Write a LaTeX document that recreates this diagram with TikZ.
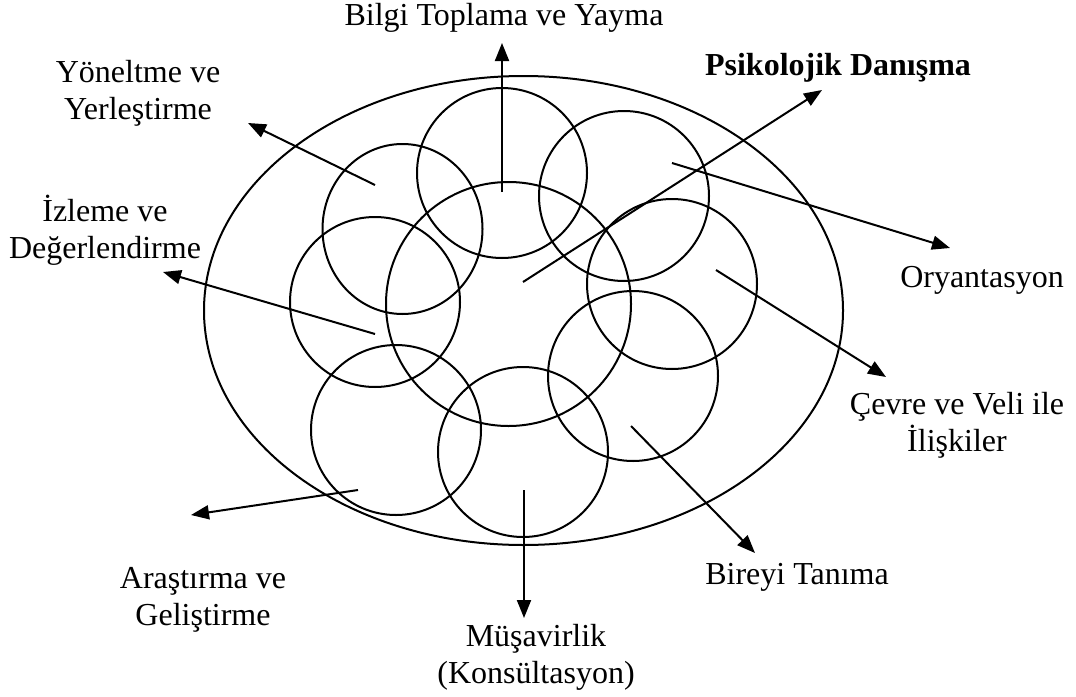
\documentclass[tikz,border=0pt]{standalone}
\usepackage{fontspec}
\setmainfont{Liberation Serif}
\usetikzlibrary{arrows.meta}
\begin{document}
\begin{tikzpicture}[x=0.5pt,y=-0.5pt,
  ring/.style={draw, line width=1pt},
  conn/.style={draw, line width=1pt, -{Triangle[length=9pt,width=7pt]}},
  lbl/.style={inner sep=0pt, align=center, font=\fontsize{16}{18.5}\selectfont}]
\useasboundingbox (0,0) rectangle (1076,696);
% outer ellipse
\draw[ring] (523.5,310.5) ellipse [x radius=159.75pt, y radius=117.25pt];
% small circles
\draw[ring] (502,173) ellipse [x radius=42.5pt, y radius=42.5pt];
\draw[ring] (624,196) ellipse [x radius=42.5pt, y radius=42.5pt];
\draw[ring] (402.5,229) ellipse [x radius=40pt, y radius=42.5pt];
\draw[ring] (375,302) ellipse [x radius=42.5pt, y radius=42.5pt];
\draw[ring] (672,284) ellipse [x radius=42.5pt, y radius=42.5pt];
\draw[ring] (633,376) ellipse [x radius=42.5pt, y radius=42.5pt];
\draw[ring] (523,452) ellipse [x radius=42.5pt, y radius=42.5pt];
\draw[ring] (396,430) ellipse [x radius=42.5pt, y radius=42.5pt];
% central circle
\draw[ring] (508.5,304) ellipse [x radius=61.25pt, y radius=61pt];
% arrow start points
\coordinate (sB) at (502,192);
\coordinate (sP) at (523,282);
\coordinate (sY) at (375,185);
\coordinate (sI) at (375,334);
\coordinate (sO) at (672,163);
\coordinate (sC) at (716,270);
\coordinate (sT) at (631,426);
\coordinate (sM) at (524,490);
\coordinate (sA) at (358,490);
% arrow tips
\coordinate (tB) at (502,43);
\coordinate (tP) at (822,90);
\coordinate (tY) at (248,123);
\coordinate (tI) at (163,272);
\coordinate (tO) at (950,248);
\coordinate (tC) at (886,377);
\coordinate (tT) at (755,553);
\coordinate (tM) at (524,618);
\coordinate (tA) at (191,515);
% labels
\node[lbl] (lB) at (504,18) {Bilgi Toplama ve Yayma};
\node[lbl, font=\fontsize{16}{18.5}\selectfont\bfseries] (lP) at (838,68) {Psikolojik Danışma};
\node[lbl] (lY) at (138,93) {Yöneltme ve\\Yerleştirme};
\node[lbl] (lI) at (105,230) {İzleme ve\\Değerlendirme};
\node[lbl] (lO) at (982,280) {Oryantasyon};
\node[lbl] (lC) at (957,425) {Çevre ve Veli ile\\İlişkiler};
\node[lbl] (lT) at (797,577) {Bireyi Tanıma};
\node[lbl] (lM) at (536,657) {Müşavirlik\\(Konsültasyon)};
\node[lbl] (lA) at (203,600) {Araştırma ve\\Geliştirme};
% connectors
\draw[conn] (sB) -- (tB);
\draw[conn] (sP) -- (tP);
\draw[conn] (sY) -- (tY);
\draw[conn] (sI) -- (tI);
\draw[conn] (sO) -- (tO);
\draw[conn] (sC) -- (tC);
\draw[conn] (sT) -- (tT);
\draw[conn] (sM) -- (tM);
\draw[conn] (sA) -- (tA);
\end{tikzpicture}
\end{document}
